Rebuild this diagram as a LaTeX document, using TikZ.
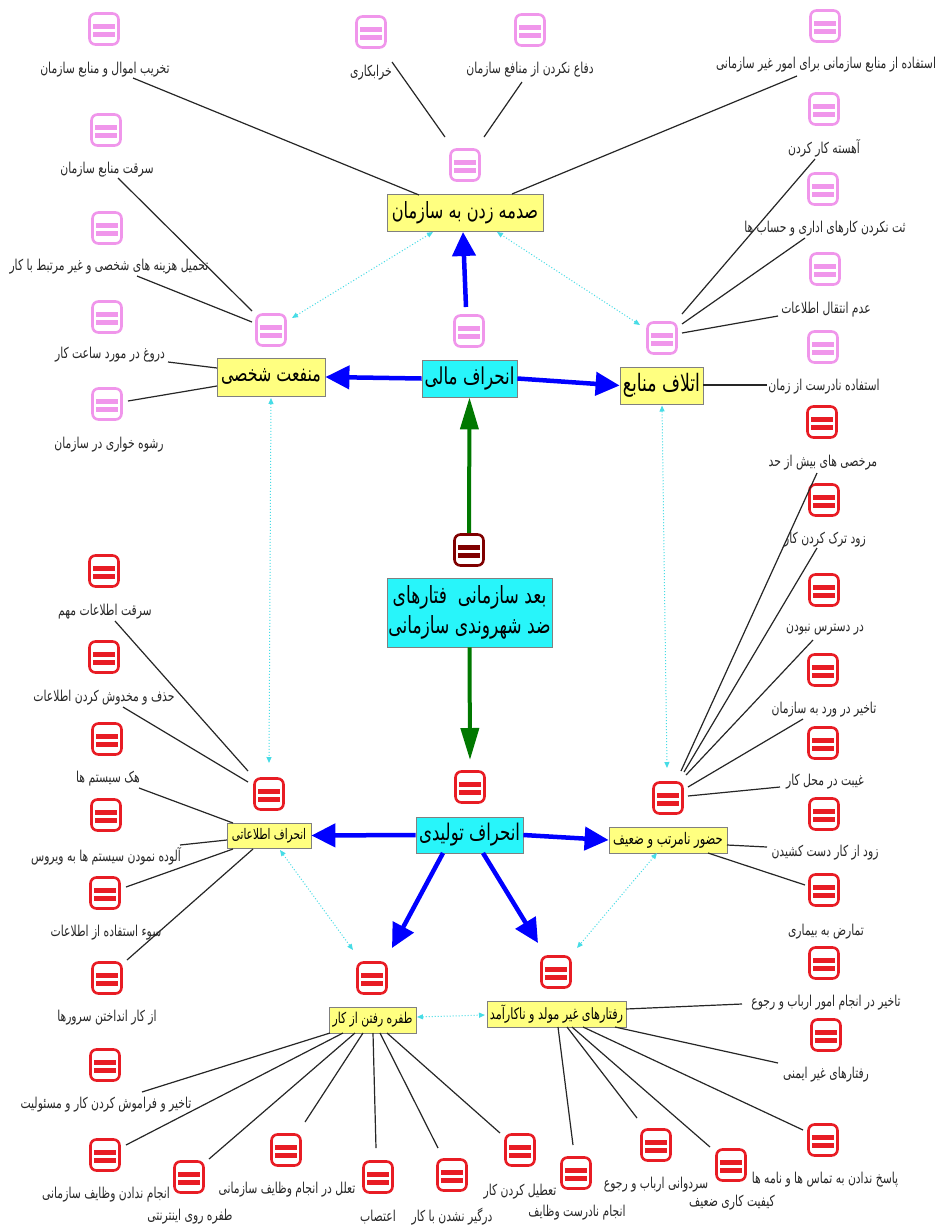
\documentclass[tikz,border=0pt]{standalone}
\usepackage{fontspec}
\usetikzlibrary{arrows.meta,calc}
\TeXXeTstate=1
\newfontfamily\arfont[Script=Arabic,FakeStretch=0.72]{DejaVu Sans}
\newcommand\fa[1]{{\arfont\beginR #1\endR}}
\definecolor{pinkc}{RGB}{240,150,235}
\definecolor{redc}{RGB}{232,28,36}
\definecolor{maroonc}{RGB}{128,0,0}
\definecolor{ylw}{RGB}{255,255,128}
\definecolor{cyn}{RGB}{40,245,250}
\definecolor{bordc}{RGB}{128,128,128}
\definecolor{dotc}{RGB}{70,220,230}
\definecolor{bluec}{RGB}{0,0,255}
\definecolor{greenc}{RGB}{0,120,0}
\definecolor{txtc}{RGB}{40,40,40}
\begin{document}
\begin{tikzpicture}[x=1pt,y=-1pt,
  icon/.style={draw=#1, line width=2.6pt, rounded corners=6pt, minimum width=29pt, minimum height=31pt, inner sep=0pt, fill=white,
    path picture={\fill[#1,sharp corners] ($(path picture bounding box.center)+(-11,-5.5)$) rectangle ($(path picture bounding box.center)+(11,-0.5)$);
      \fill[#1,sharp corners] ($(path picture bounding box.center)+(-11,3)$) rectangle ($(path picture bounding box.center)+(11,8)$);}},
  lbl/.style={inner sep=1pt, text=txtc, font=\fontsize{15}{17}\selectfont},
  ybox/.style={draw=bordc, fill=ylw, line width=0.8pt, inner sep=0pt, text=black},
  cbox/.style={draw=bordc, fill=cyn, line width=0.8pt, inner sep=0pt, text=black},
  fs/.style={font=\fontsize{#1}{#1}\selectfont},
  leaf/.style={draw=black!85, line width=1.2pt},
  dotarr/.style={draw=dotc, line width=1pt, dotted, {Triangle[length=6pt,width=5pt]}-{Triangle[length=6pt,width=5pt]}},
  barr/.style={draw=bluec, line width=4.5pt, -{Triangle[length=24pt,width=23pt]}},
  garr/.style={draw=greenc, line width=4pt, -{Triangle[length=32pt,width=18pt]}},
]
\fill[white] (0,0) rectangle (941,1227);
\useasboundingbox (0,0) rectangle (941,1227);

% hub icons
\node[icon=pinkc] (iS) at (465,165) {};
\node[icon=pinkc] (iM) at (271,330) {};
\node[icon=pinkc] (iF) at (469,331) {};
\node[icon=pinkc] (iE) at (662,338) {};
\node[icon=maroonc] (iC) at (469,550) {};
\node[icon=redc] (iT) at (470,787) {};
\node[icon=redc] (iI) at (269,794) {};
\node[icon=redc] (iH) at (668,798) {};
\node[icon=redc] (iD) at (372,978) {};
\node[icon=redc] (iR) at (556,972) {};

% hub boxes
\node[ybox,fs=22.4,minimum width=156pt,minimum height=37pt] (S) at (465,213) {\fa{صدمه زدن به سازمان}};
\node[ybox,fs=22,minimum width=108pt,minimum height=38pt] (M) at (271,377) {\fa{منفعت شخصی}};
\node[cbox,fs=23.3,minimum width=95pt,minimum height=37pt] (F) at (469.5,378.5) {\fa{انحراف مالی}};
\node[ybox,fs=24,minimum width=83pt,minimum height=37pt] (E) at (661.5,385.5) {\fa{اتلاف منابع}};
\node[cbox,font=\fontsize{23.7}{30}\selectfont,minimum width=165pt,minimum height=69pt,align=center] (C) at (469.5,612.5) {\fa{بعد سازمانی~~فتارهای}\\\fa{ضد شهروندی سازمانی}};
\node[cbox,fs=23,minimum width=107pt,minimum height=36pt] (T) at (469.5,835) {\fa{انحراف تولیدی}};
\node[ybox,fs=14.6,minimum width=84pt,minimum height=25pt] (I) at (269,835.5) {\fa{انحراف اطلاعاتی}};
\node[ybox,fs=16,minimum width=118pt,minimum height=26pt] (H) at (668,840) {\fa{حضور نامرتب و ضعیف}};
\node[ybox,fs=15,minimum width=87pt,minimum height=26pt] (D) at (372.5,1020) {\fa{طفره رفتن از کار}};
\node[ybox,fs=15.6,minimum width=139pt,minimum height=26pt] (R) at (556.5,1014) {\fa{رفتارهای غیر مولد و ناکارآمد}};

% leaves
\foreach \n/\ix/\iy/\lx/\ly/\c/\t in {
 1/104/29/105/70/pinkc/{تخریب اموال و منابع سازمان},
 2/371/32/371/73/pinkc/{خرابکاری},
 3/530/30/530/70/pinkc/{دفاع نکردن از منافع سازمان},
 4/825/26/826/65/pinkc/{استفاده از منابع سازمانی برای امور غیر سازمانی},
 5/824/109/824/148/pinkc/{آهسته کار کردن},
 6/823/189/825/229/pinkc/{ثت نکردن کارهای اداری و حساب ها},
 7/825/269/826/310/pinkc/{عدم انتقال اطلاعات},
 8/823/347/824/387/pinkc/{استفاده نادرست از زمان},
 9/106/130/107/170/pinkc/{سرقت منابع سازمان},
 10/107/228/109/267/pinkc/{تحمیل هزینه های شخصی و غیر مرتبط با کار},
 11/107/317/110/355/pinkc/{دروغ در مورد ساعت کار},
 12/107/404/109/445/pinkc/{رشوه خواری در سازمان},
 13/104/571/105/612/redc/{سرقت اطلاعات مهم},
 14/104/657/104/698/redc/{حذف و مخدوش کردن اطلاعات},
 15/107/739/108/779/redc/{هک سیستم ها},
 16/106/815/106/856/redc/{آلوده نمودن سیستم ها به ویروس},
 17/105/893/106/933/redc/{سوء استفاده از اطلاعات},
 18/107/978/107/1018/redc/{از کار انداختن سرورها},
 19/105/1065/106/1105/redc/{تاخیر و فراموش کردن کار و مسئولیت},
 20/105/1155/106/1195/redc/{انجام ندادن وظایف سازمانی},
 21/189/1177/190/1217/redc/{طفره روی اینترنتی},
 22/286/1150/287/1190/redc/{تعلل در انجام وظایف سازمانی},
 23/378/1177/378/1217/redc/{اعتصاب},
 24/452/1175/452/1217/redc/{درگیر نشدن با کار},
 25/520/1150/520/1192/redc/{تعطیل کردن کار},
 26/576/1173/577/1213/redc/{انجام نادرست وظایف},
 27/656/1145/656/1185/redc/{سردوانی ارباب و رجوع},
 28/731/1165/732/1203/redc/{کیفیت کاری ضعیف},
 29/823/1140/825/1180/redc/{پاسخ ندادن به تماس ها و نامه ها},
 30/826/1035/826/1075/redc/{رفتارهای غیر ایمنی},
 31/824/963/826/1003/redc/{تاخیر در انجام امور ارباب و رجوع},
 32/824/890/826/932/redc/{تمارض به بیماری},
 33/824/814/825/853/redc/{زود از کار دست کشیدن},
 34/823/743/825/782/redc/{غیبت در محل کار},
 35/823/670/824/710/redc/{تاخیر در ورد به سازمان},
 36/824/590/825/630/redc/{در دسترس نبودن},
 37/824/500/825/540/redc/{زود ترک کردن کار},
 38/822/422/823/463/redc/{مرخصی های بیش از حد}}
{
 \node[icon=\c] (i\n) at (\ix,\iy) {};
 \node[lbl] (l\n) at (\lx,\ly) {\fa{\t}};
}

% leaf connectors
\draw[leaf] ([shift={(28,8)}]l1.center) -- ([shift={(-46,-18)}]S.center);
\draw[leaf] ([shift={(21,-11)}]l2.center) -- ([shift={(-20,-28)}]iS.center);
\draw[leaf] ([shift={(-8,12)}]l3.center) -- ([shift={(19,-28)}]iS.center);
\draw[leaf] ([shift={(-29,11)}]l4.center) -- ([shift={(47,-19)}]S.center);
\draw[leaf] ([shift={(-9,11)}]l5.center) -- ([shift={(20,-24)}]iE.center);
\draw[leaf] ([shift={(-20,9)}]l6.center) -- ([shift={(20,-14)}]iE.center);
\draw[leaf] ([shift={(-48,6)}]l7.center) -- ([shift={(20,-5)}]iE.center);
\draw[leaf] ([shift={(-57,-2)}]l8.center) -- ([shift={(41.5,-0.5)}]E.center);
\draw[leaf] ([shift={(11,8)}]l9.center) -- ([shift={(-19,-19)}]iM.center);
\draw[leaf] ([shift={(28,9)}]l10.center) -- ([shift={(-19,-8)}]iM.center);
\draw[leaf] ([shift={(58,7)}]l11.center) -- ([shift={(-54,-9)}]M.center);
\draw[leaf] ([shift={(21,-3)}]i12.center) -- ([shift={(-54,9)}]M.center);
\draw[leaf] ([shift={(10,9)}]l13.center) -- ([shift={(-21,-23)}]iI.center);
\draw[leaf] ([shift={(19,9)}]l14.center) -- ([shift={(-21,-12)}]iI.center);
\draw[leaf] ([shift={(31,9)}]l15.center) -- ([shift={(-36,-12.5)}]I.center);
\draw[leaf] ([shift={(74,-11)}]l16.center) -- ([shift={(-42,4.5)}]I.center);
\draw[leaf] ([shift={(21,-6)}]i17.center) -- ([shift={(-36,13.5)}]I.center);
\draw[leaf] ([shift={(20,-18)}]i18.center) -- ([shift={(-16,13.5)}]I.center);
\draw[leaf] ([shift={(36,-13)}]l19.center) -- ([shift={(-42.5,13)}]D.center);
\draw[leaf] ([shift={(21,-10)}]i20.center) -- ([shift={(-29.5,13)}]D.center);
\draw[leaf] ([shift={(20,-18)}]i21.center) -- ([shift={(-17.5,13)}]D.center);
\draw[leaf] ([shift={(19,-28)}]i22.center) -- ([shift={(-9.5,13)}]D.center);
\draw[leaf] ([shift={(-2,-29)}]i23.center) -- ([shift={(0.5,13)}]D.center);
\draw[leaf] ([shift={(-14,-27)}]i24.center) -- ([shift={(7.5,13)}]D.center);
\draw[leaf] ([shift={(-20,-17)}]i25.center) -- ([shift={(14.5,13)}]D.center);
\draw[leaf] ([shift={(-3,-28)}]i26.center) -- ([shift={(1.5,13)}]R.center);
\draw[leaf] ([shift={(-19,-27)}]i27.center) -- ([shift={(10.5,13)}]R.center);
\draw[leaf] ([shift={(-21,-18)}]i28.center) -- ([shift={(15.5,13)}]R.center);
\draw[leaf] ([shift={(-20,-10)}]i29.center) -- ([shift={(26.5,13)}]R.center);
\draw[leaf] ([shift={(-48,-12)}]l30.center) -- ([shift={(58.5,13)}]R.center);
\draw[leaf] ([shift={(-84,1)}]l31.center) -- ([shift={(69.5,-5)}]R.center);
\draw[leaf] ([shift={(-19,-5)}]i32.center) -- ([shift={(40,13)}]H.center);
\draw[leaf] ([shift={(-58,-6)}]l33.center) -- ([shift={(59,5)}]H.center);
\draw[leaf] ([shift={(-45,5)}]l34.center) -- ([shift={(20,-2)}]iH.center);
\draw[leaf] ([shift={(-21,9)}]l35.center) -- ([shift={(20,-11)}]iH.center);
\draw[leaf] ([shift={(-12,10)}]l36.center) -- ([shift={(18,-23)}]iH.center);
\draw[leaf] ([shift={(-8,8)}]l37.center) -- ([shift={(16,-26)}]iH.center);
\draw[leaf] ([shift={(-6,10)}]l38.center) -- ([shift={(13,-27)}]iH.center);

% dotted links
\draw[dotarr] ([shift={(21,-12)}]iM.center) -- ([shift={(-32,19)}]S.center);
\draw[dotarr] ([shift={(-22,-13)}]iE.center) -- ([shift={(32,19)}]S.center);
\draw[dotarr] ([shift={(0,21)}]M.center) -- ([shift={(0,-31)}]iI.center);
\draw[dotarr] ([shift={(0.5,20)}]E.center) -- ([shift={(-1,-30)}]iH.center);
\draw[dotarr] ([shift={(11,14.5)}]I.center) -- ([shift={(-19,-28)}]iD.center);
\draw[dotarr] ([shift={(-11,13)}]H.center) -- ([shift={(21,-24)}]iR.center);
\draw[dotarr] ([shift={(44.5,-3)}]D.center) -- ([shift={(-71.5,1)}]R.center);

% blue arrows
\draw[barr] (F.west) -- (M.east);
\draw[barr] (F.east) -- (E.west);
\draw[barr] ([shift={(-3,-24)}]iF.center) -- ([shift={(-2,19)}]S.center);
\draw[barr] (T.west) -- (I.east);
\draw[barr] (T.east) -- (H.west);
\draw[barr] ([shift={(-26.5,18)}]T.center) -- ([shift={(20,-30)}]iD.center);
\draw[barr] ([shift={(13.5,18)}]T.center) -- ([shift={(-18,-29)}]iR.center);

% green arrows
\draw[garr] (iC.north) -- (F.south);
\draw[garr] (C.south) -- ([shift={(0,-27)}]iT.center);
\end{tikzpicture}
\end{document}
